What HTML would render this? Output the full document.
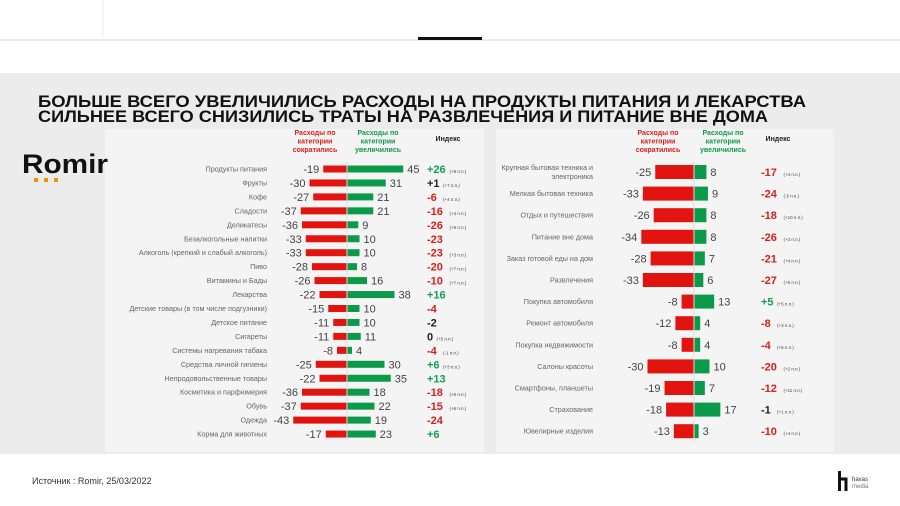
<!DOCTYPE html>
<html><head><meta charset="utf-8">
<style>
html,body{margin:0;padding:0;background:#fff;}
svg{display:block;font-family:"Liberation Sans","DejaVu Sans",sans-serif;}
</style></head>
<body>
<svg id="s" width="900" height="506" viewBox="0 0 900 506" xmlns="http://www.w3.org/2000/svg">
  <rect x="0" y="0" width="900" height="506" fill="#ffffff"/>
  <line x1="103" y1="0" x2="103" y2="38" stroke="#eeeeee" stroke-width="1"/>
  <rect x="0" y="39" width="900" height="2" fill="#ececec"/>
  <rect x="418" y="37" width="64" height="3" fill="#111"/>
  <rect x="0" y="73" width="900" height="381" fill="#ececec"/>
  <rect x="105" y="129" width="379" height="323" fill="#f4f4f4"/>
  <rect x="496" y="129" width="338" height="323" fill="#f4f4f4"/>
  <g font-weight="bold" fill="#111">
    <text x="38" y="107" font-size="16.5" textLength="768" lengthAdjust="spacingAndGlyphs">БОЛЬШЕ ВСЕГО УВЕЛИЧИЛИСЬ РАСХОДЫ НА ПРОДУКТЫ ПИТАНИЯ И ЛЕКАРСТВА</text>
    <text x="38" y="122" font-size="16.5" textLength="730" lengthAdjust="spacingAndGlyphs">СИЛЬНЕЕ ВСЕГО СНИЗИЛИСЬ ТРАТЫ НА РАЗВЛЕЧЕНИЯ И ПИТАНИЕ ВНЕ ДОМА</text>
  </g>
  <g>
    <text x="22" y="173" font-size="27" font-weight="bold" fill="#111" textLength="86" lengthAdjust="spacingAndGlyphs">Romir</text>
    <rect x="34" y="178" width="4" height="4" fill="#f39200"/>
    <rect x="44" y="178" width="4" height="4" fill="#f39200"/>
    <rect x="54" y="178" width="4" height="4" fill="#f39200"/>
  </g>
  <g id="left"></g>
  <g id="right"></g>
  <text x="32" y="484" font-size="9" fill="#333">Источник : Romir, 25/03/2022</text>
  <g>
    <rect x="838" y="471" width="3" height="20" fill="#111"/>
    <path d="M841 479 h5 v12" fill="none" stroke="#111" stroke-width="3"/>
    <text x="852" y="481" font-size="6" fill="#333">havas</text>
    <text x="852" y="488" font-size="6" fill="#777">media</text>
  </g>
</svg>
<script>
const leftCats=["Продукты питания","Фрукты","Кофе","Сладости","Деликатесы","Безалкогольные напитки","Алкоголь (крепкий и слабый алкоголь)","Пиво","Витамины и Бады","Лекарства","Детские товары (в том числе подгузники)","Детское питание","Сигареты","Системы нагревания табака","Средства личной гигиены","Непродовольственные товары","Косметика и парфюмерия","Обувь","Одежда","Корма для животных"];
const leftDown=[-19,-30,-27,-37,-36,-33,-33,-28,-26,-22,-15,-11,-11,-8,-25,-22,-36,-37,-43,-17];
const leftUp=[45,31,21,21,9,10,10,8,16,38,10,10,11,4,30,35,18,22,19,23];
const leftIndex=["+26","+1","-6","-16","-26","-23","-23","-20","-10","+16","-4","-2","0","-4","+6","+13","-18","-15","-24","+6"];
const leftNotes=["(+8 п.п.)","(+7 п.п.)","(+4 п.п.)","(+4 п.п.)","(+6 п.п.)","","(+3 п.п.)","(+7 п.п.)","(+7 п.п.)","","","","(+5 п.п.)","(-1 п.п.)","(+3 п.п.)","","(+6 п.п.)","(+6 п.п.)","",""];
const rightCats=[["Крупная бытовая техника и","электроника"],["Мелкая бытовая техника"],["Отдых и путешествия"],["Питание вне дома"],["Заказ готовой еды на дом"],["Развлечения"],["Покупка автомобиля"],["Ремонт автомобиля"],["Покупка недвижимости"],["Салоны красоты"],["Смартфоны, планшеты"],["Страхование"],["Ювелирные изделия"]];
const rightDown=[-25,-33,-26,-34,-28,-33,-8,-12,-8,-30,-19,-18,-13];
const rightUp=[8,9,8,8,7,6,13,4,4,10,7,17,3];
const rightIndex=["-17","-24","-18","-26","-21","-27","+5","-8","-4","-20","-12","-1","-10"];
const rightNotes=["(+4 п.п.)","(-5 п.п.)","(+10 п.п.)","(+3 п.п.)","(+4 п.п.)","(+5 п.п.)","(+5 п.п.)","(+3 п.п.)","(+5 п.п.)","(+2 п.п.)","(+11 п.п.)","(+1 п.п.)","(+4 п.п.)"];

const NS="http://www.w3.org/2000/svg";
function mk(parent,tag,attrs,txt){const e=document.createElementNS(NS,tag);for(const k in attrs)e.setAttribute(k,attrs[k]);if(txt!==undefined)e.textContent=txt;parent.appendChild(e);return e;}
const RED="#e2140f",GREEN="#0b9a4a";

function draw(g,cfg){
  const hdr=[[cfg.hRed,"#d8201a",["Расходы по","категории","сократились"]],[cfg.hGreen,"#11994a",["Расходы по","категории","увеличились"]]];
  hdr.forEach(h=>{h[2].forEach((t,i)=>{
    const e=mk(g,"text",{x:h[0],y:cfg.hy+i*8.5,"font-size":7,"font-weight":"bold",fill:h[1],"text-anchor":"middle"},t);
    
    
  });});
  const ix=mk(g,"text",{x:cfg.hIdx,y:cfg.hy+6,"font-size":7,"font-weight":"bold",fill:"#222","text-anchor":"middle"},"Индекс");
  
  
  const n=cfg.cats.length;
  const xs=v=>cfg.cx+v*cfg.k;
  const ys=i=>cfg.y0+i*cfg.step;
  for(let i=0;i<n;i++){
    const y=ys(i);
    const lines=Array.isArray(cfg.cats[i])?cfg.cats[i]:[cfg.cats[i]];
    lines.forEach((t,j)=>{
      const lb=mk(g,"text",{x:cfg.lx,y:y+2.5+(j-(lines.length-1)/2)*9,"font-size":cfg.lfs,fill:"#666","text-anchor":"end"},t);
      
      
    });
    const d=cfg.down[i],u=cfg.up[i];
    const rb=mk(g,"rect",{x:xs(d),y:y-cfg.bh/2,width:cfg.cx-xs(d),height:cfg.bh,fill:RED});
    
    
    const gb=mk(g,"rect",{x:cfg.cx,y:y-cfg.bh/2,width:xs(u)-cfg.cx,height:cfg.bh,fill:GREEN});
    
    
    const dv=mk(g,"text",{x:xs(d)-4,y:y+4,"font-size":cfg.nfs,fill:"#444","text-anchor":"end"},String(d));
    
    
    const uv=mk(g,"text",{x:xs(u)+4,y:y+4,"font-size":cfg.nfs,fill:"#444"},String(u));
    
    
    const s=cfg.idx[i];const num=parseFloat(s);
    const col=num>=5?"#13a04f":(num<=-4?"#d8201a":"#222");
    const it=mk(g,"text",{x:cfg.ix,y:y+4,"font-size":11,"font-weight":"bold",fill:col},s);
    
    
    if(cfg.notes[i]){
      const nt=mk(g,"text",{x:cfg.ix+s.length*6.5+3,y:y+4,"font-size":4.5,fill:"#444"},cfg.notes[i]);
      
      
    }
  }
  const ax=mk(g,"line",{x1:cfg.cx,y1:cfg.y0-cfg.step/2,x2:cfg.cx,y2:ys(n-1)+cfg.step/2,stroke:"#dddddd","stroke-width":1});
  
  
}
draw(document.getElementById("left"),{cats:leftCats,down:leftDown,up:leftUp,idx:leftIndex,notes:leftNotes,cx:347,k:1.25,y0:169,step:13.95,bh:7,lx:267,ix:427,lfs:7.2,nfs:11,hRed:315,hGreen:378,hIdx:448,hy:135});
draw(document.getElementById("right"),{cats:rightCats,down:rightDown,up:rightUp,idx:rightIndex,notes:rightNotes,cx:694,k:1.55,y0:172,step:21.6,bh:14,lx:593,ix:761,lfs:7.2,nfs:11,hRed:658,hGreen:723,hIdx:778,hy:135});
</script>
</body></html>
